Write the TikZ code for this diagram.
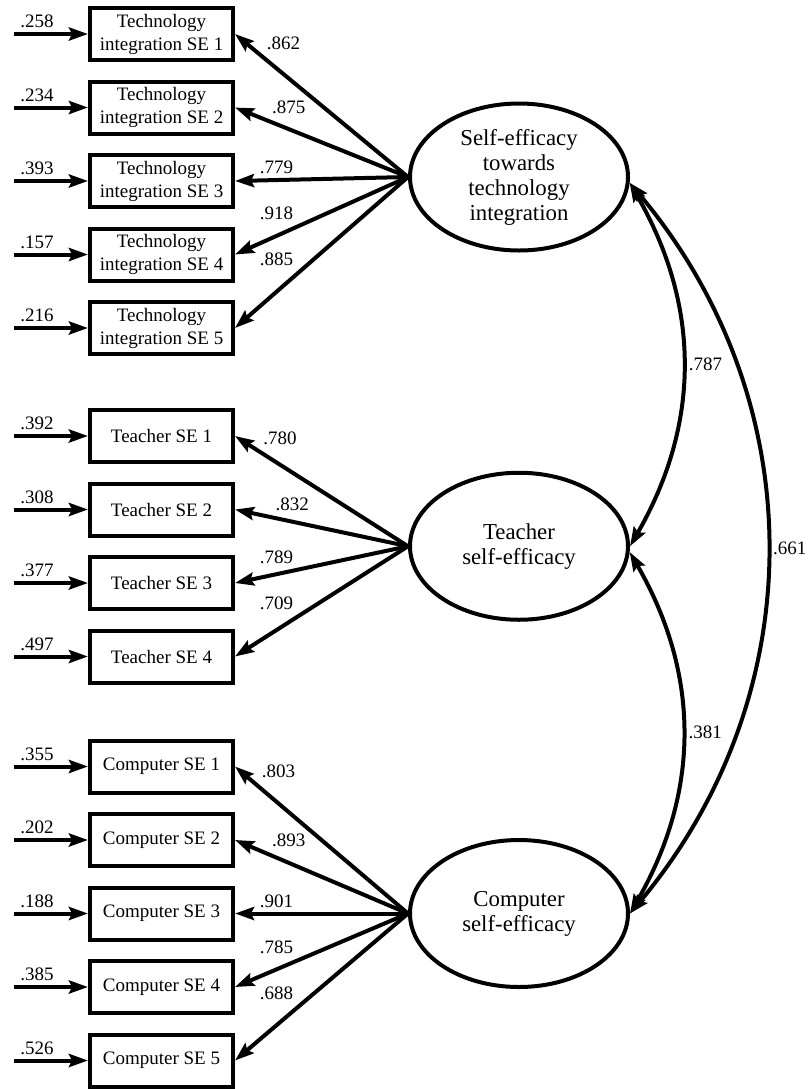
\documentclass[tikz,border=0pt]{standalone}
\usepackage{fontspec}
\setmainfont{Liberation Serif}
\usetikzlibrary{arrows.meta,calc,shapes.geometric}

\begin{document}
\begin{tikzpicture}[node distance=36.75pt, line width=2pt,
        >={Stealth[length=9.5pt,width=6.5pt,inset=1.5pt]},
        obsbox/.style = {draw, line width=2pt, minimum width=71.5pt, minimum height=26pt,
            inner sep=1pt, align=center, font=\fontsize{9.5}{11.5}\selectfont},
        latent/.style = {draw, ellipse, line width=2pt, minimum width=109pt, minimum height=73.5pt,
            inner sep=0pt, align=center, font=\fontsize{11.4}{12.5}\selectfont},
        num/.style = {inner sep=2pt, font=\fontsize{9.5}{11}\selectfont}]
    \useasboundingbox (0,0) rectangle (405pt,-544.5pt);
    % observed items
    \node[obsbox] (ti1) at (80.75pt,-17pt) {Technology\\integration SE 1};
    \foreach \i/\j in {2/1,3/2,4/3,5/4}
        \node[obsbox] (ti\i) [below of=ti\j] {Technology\\integration SE \i};
    \node[obsbox] (t1) [below of=ti5, node distance=54pt] {Teacher SE 1};
    \foreach \i/\j in {2/1,3/2,4/3}
        \node[obsbox] (t\i) [below of=t\j] {Teacher SE \i};
    \node[obsbox] (c1) [below of=t4, node distance=55pt] {Computer SE 1};
    \foreach \i/\j in {2/1,3/2,4/3,5/4}
        \node[obsbox] (c\i) [below of=c\j] {Computer SE \i};
    % latent factors
    \node[latent] (tise) at ([xshift=178.75pt, yshift=2pt]ti3) {Self-efficacy\\towards\\technology\\integration};
    \node[latent] (tse) at ($(t2)!0.5!(t3)+(178.75pt,0)$) {Teacher\\self-efficacy};
    \node[latent] (cse) at ([xshift=178.75pt]c3) {Computer\\self-efficacy};
    % error terms
    \foreach \n/\v in {ti1/.258, ti2/.234, ti3/.393, ti4/.157, ti5/.216,
                       t1/.392, t2/.308, t3/.377, t4/.497,
                       c1/.355, c2/.202, c3/.188, c4/.385, c5/.526} {
        \coordinate (e\n) at ([xshift=-37pt]\n.west);
        \draw[->] (e\n) -- node[num, anchor=south, pos=0.31] {\v} (\n.west);
    }
    % loadings
    \foreach \f/\n/\v/\p/\a in {tise/ti1/.862/0.85/south west, tise/ti2/.875/0.82/south west,
                                tise/ti3/.779/0.629/south east, tise/ti4/.918/0.629/south east,
                                tise/ti5/.885/0.629/south east,
                                tse/t1/.780/0.87/south west, tse/t2/.832/0.8/south west,
                                tse/t3/.789/0.629/south east, tse/t4/.709/0.629/south east,
                                cse/c1/.803/0.88/south west, cse/c2/.893/0.82/south west,
                                cse/c3/.901/0.629/south east, cse/c4/.785/0.629/south east,
                                cse/c5/.688/0.629/south east}
        \draw[->] (\f.west) -- node[num, pos=\p, anchor=\a] {\v} (\n.east);
    % covariances
    \draw[<->] (tise.-3) to[bend left=30] node[num, right] {.787} (tse.east);
    \draw[<->] (tse.-3) to[bend left=30] node[num, right] {.381} (cse.east);
    \draw[<->] (tise.-3) to[bend left=40] node[num, right] {.661} (cse.east);
\end{tikzpicture}
\end{document}
